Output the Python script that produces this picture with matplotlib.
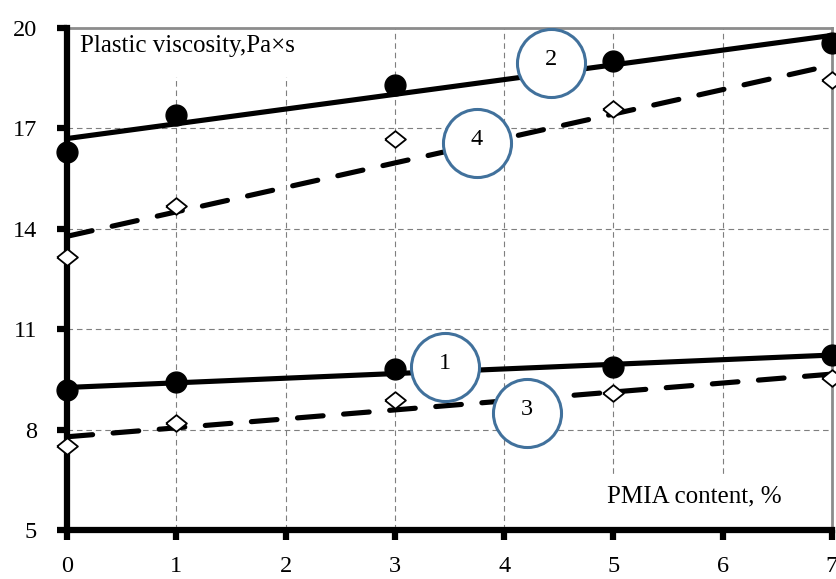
import numpy as np
import matplotlib
matplotlib.use("Agg")
import matplotlib.pyplot as plt
from matplotlib.patches import Rectangle

# Datos (contenido de PMIA, %)
x = np.array([0, 1, 3, 5, 7], dtype=float)
serie1 = np.array([9.18, 9.42, 9.82, 9.87, 10.22])   # círculos, línea continua
serie2 = np.array([16.29, 17.39, 18.29, 19.02, 19.54])  # círculos, línea continua
serie3 = np.array([7.50, 8.20, 8.88, 9.10, 9.53])    # rombos, línea discontinua
serie4 = np.array([13.16, 14.69, 16.69, 17.59, 18.44])  # rombos, línea discontinua

# Etiquetas numeradas en círculos (posición en datos)
etiquetas = ["1", "2", "3", "4"]
etiq_x = [3.46, 4.43, 4.21, 3.75]
etiq_y = [9.88, 18.95, 8.49, 16.56]

xticks = [0, 1, 2, 3, 4, 5, 6, 7]
yticks = [5, 8, 11, 14, 17, 20]

plt.rcParams['font.family'] = ['Liberation Serif', 'DejaVu Serif']
plt.rcParams['font.size'] = 16

fig = plt.figure(figsize=(8.37, 5.79), dpi=100)
ax = fig.add_axes([67/837, 49/579, 765/837, 502/579])
ax.set_xlim(0, 7)
ax.set_ylim(5, 20)
ax.set_xticks(xticks)
ax.set_yticks(yticks)

# Rejilla
ax.grid(True, color='#7f7f7f', linestyle=(0, (5, 3.5)), linewidth=0.8)
ax.set_axisbelow(True)

# Ejes
for lado in ['left', 'bottom']:
    ax.spines[lado].set_linewidth(4.5)
    ax.spines[lado].set_color('black')
    ax.spines[lado].set_zorder(3)
for lado in ['top', 'right']:
    ax.spines[lado].set_linewidth(2)
    ax.spines[lado].set_color('#8c8c8c')
ax.tick_params(axis='both', direction='out', length=7.5, width=4.5, color='black',
               labelsize=17.5)
ax.tick_params(axis='y', pad=14)
ax.tick_params(axis='x', pad=11)

# Cajas blancas detrás de los textos
ax.add_patch(Rectangle((0, 0.902), 0.305, 0.098, transform=ax.transAxes,
                       facecolor='white', edgecolor='none', zorder=1))
ax.add_patch(Rectangle((0.697, 0.0), 0.303, 0.106, transform=ax.transAxes,
                       facecolor='white', edgecolor='none', zorder=1))

# Líneas de tendencia (ajuste lineal como en Excel)
xs = np.array([0.0, 7.0])
for y, estilo in [(serie1, '-'), (serie2, '-'), (serie3, '--'), (serie4, '--')]:
    c = np.polyfit(x, y, 1)
    if estilo == '-':
        ax.plot(xs, np.polyval(c, xs), color='black', lw=3.7, zorder=4,
                solid_capstyle='butt')
    else:
        ax.plot(xs, np.polyval(c, xs), color='black', lw=3.7, zorder=4,
                dashes=(5.0, 4.0), dash_capstyle='round')

# Marcadores
rombo = [(-1, 0), (0, 0.8), (1, 0), (0, -0.8), (-1, 0)]
for y in [serie1, serie2]:
    ax.plot(x, y, 'o', color='black', ms=15, zorder=6, clip_on=False)
for y in [serie3, serie4]:
    ax.plot(x, y, linestyle='none', marker=rombo, ms=15, mfc='white',
            mec='black', mew=1.3, zorder=6, clip_on=False)

# Círculos numerados
ax.scatter(etiq_x, etiq_y, s=49**2, facecolor='white', edgecolor='#41719c',
           linewidth=2.2, zorder=7)
for t, ex, ey in zip(etiquetas, etiq_x, etiq_y):
    ax.text(ex, ey + 0.1, t, ha='center', va='center', fontsize=17.5, zorder=8)

# Textos de los ejes
ax.text(0.017, 0.964, "Plastic viscosity,Pa×s", transform=ax.transAxes,
        ha='left', va='center', fontsize=18, zorder=8)
ax.text(0.706, 0.066, "PMIA content, %", transform=ax.transAxes,
        ha='left', va='center', fontsize=18, zorder=8)

fig.savefig("out.png", dpi=100)
